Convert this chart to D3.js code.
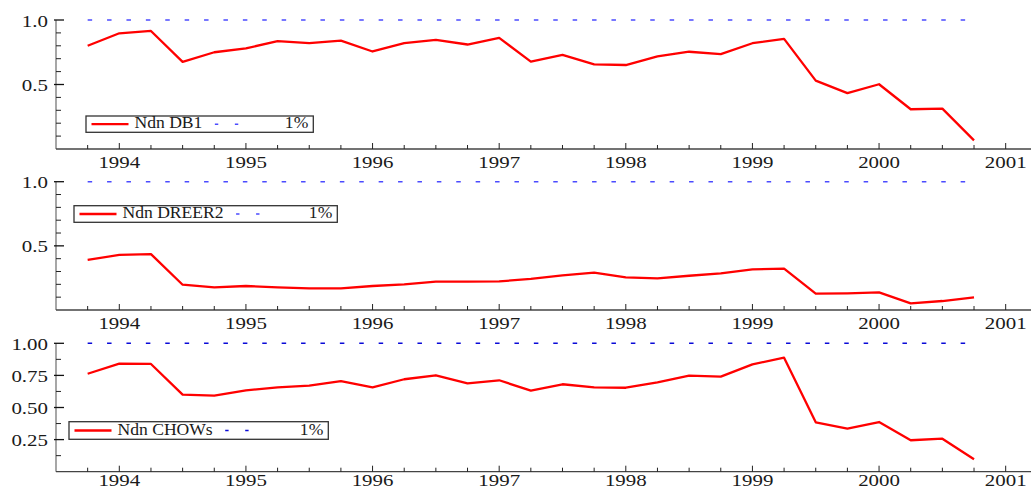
<!DOCTYPE html>
<html><head><meta charset="utf-8">
<script src="https://cdn.jsdelivr.net/npm/d3@7"></script>
<style>body{margin:0;background:#fff}svg{display:block}
text{font-family:"Liberation Serif","Times New Roman",Times,"DejaVu Serif",serif}</style>
</head><body>
<svg id="c" width="1031" height="490"></svg>
<script>
// ---- data ----
const dates = [1993.75,1994.00,1994.25,1994.50,1994.75,1995.00,1995.25,1995.50,1995.75,
  1996.00,1996.25,1996.50,1996.75,1997.00,1997.25,1997.50,1997.75,1998.00,1998.25,1998.50,
  1998.75,1999.00,1999.25,1999.50,1999.75,2000.00,2000.25,2000.50,2000.75];
const seriesNames = ["Ndn DB1", "Ndn DREER2", "Ndn CHOWs"];
const db1 = [0.800,0.897,0.915,0.675,0.750,0.780,0.836,0.820,0.840,0.756,0.820,0.846,0.810,0.862,
  0.677,0.730,0.656,0.651,0.718,0.754,0.736,0.820,0.854,0.530,0.433,0.502,0.308,0.313,0.067];
const dreer2 = [0.390,0.429,0.436,0.197,0.177,0.187,0.177,0.169,0.169,0.187,0.200,0.221,0.221,0.223,
  0.242,0.270,0.291,0.255,0.247,0.267,0.286,0.317,0.322,0.127,0.130,0.138,0.052,0.070,0.099];
const chows = [0.763,0.841,0.839,0.600,0.592,0.634,0.657,0.670,0.706,0.657,0.720,0.751,0.688,0.712,
  0.631,0.681,0.657,0.654,0.696,0.748,0.740,0.836,0.888,0.385,0.335,0.387,0.245,0.257,0.097];
const critLabel = "1%";
const critValue = 1.0;
const xTickYears = [1994,1995,1996,1997,1998,1999,2000,2001];
const xTickLabels = ["1994","1995","1996","1997","1998","1999","2000","2001"];
const yTicks12 = [1.0, 0.5];
const yTickLabels12 = ["1.0", "0.5"];
const yTicks3 = [1.0, 0.75, 0.5, 0.25];
const yTickLabels3 = ["1.00", "0.75", "0.50", "0.25"];

// ---- layout ----
const svg = d3.select("#c");
const x = d3.scaleLinear().domain([1993.5, 2001.2]).range([56, 1031]);
const panels = [
  {vals: db1, name: seriesNames[0], y0: 149, y1: 20, ticks: yTicks12, labels: yTickLabels12,
   minor: d3.range(0.1, 0.95, 0.1), critColor: "#4b4bff", xlab: 18.5,
   leg: {x: 86, y: 116, w: 227.3, h: 16.3}},
  {vals: dreer2, name: seriesNames[1], y0: 310, y1: 181.7, ticks: yTicks12, labels: yTickLabels12,
   minor: d3.range(0.1, 0.95, 0.1), critColor: "#4b4bff", xlab: 18.5,
   leg: {x: 74, y: 205.7, w: 263.3, h: 16.6}},
  {vals: chows, name: seriesNames[2], y0: 471.7, y1: 343.3, ticks: yTicks3, labels: yTickLabels3,
   minor: d3.range(0.125, 1, 0.25), critColor: "#0a0ad8", xlab: 14.2,
   leg: {x: 69, y: 421.7, w: 259.3, h: 17.6}}
];

function txt(g, px, py, s, anchor, size, sx) {
  return g.append("text")
    .attr("transform", `translate(${px},${py}) scale(${sx},1)`)
    .attr("text-anchor", anchor)
    .attr("font-size", size)
    .attr("fill", "#1a1a1a")
    .text(s);
}

panels.forEach(p => {
  const g = svg.append("g");
  const y = d3.scaleLinear().domain([0, 1]).range([p.y0, p.y1]);
  const xl = x.range()[0];

  // y axis
  g.append("line").attr("x1", xl).attr("x2", xl).attr("y1", y(1)).attr("y2", y(0))
    .attr("stroke", "#777").attr("stroke-width", 1.3);
  p.minor.forEach(v => {
    if (p.ticks.some(t => Math.abs(t - v) < 1e-6)) return;
    g.append("line").attr("x1", xl).attr("x2", xl + 5).attr("y1", y(v)).attr("y2", y(v))
      .attr("stroke", "#222").attr("stroke-width", 1);
  });
  p.ticks.forEach((v, i) => {
    g.append("line").attr("x1", xl - 2).attr("x2", xl + 8).attr("y1", y(v)).attr("y2", y(v))
      .attr("stroke", "#111").attr("stroke-width", 1.3);
    txt(g, xl - 8, y(v) + 6.5, p.labels[i], "end", 17, 1.23);
  });

  // x axis
  g.append("line").attr("x1", xl).attr("x2", x.range()[1]).attr("y1", y(0)).attr("y2", y(0))
    .attr("stroke", "#444").attr("stroke-width", 1.3);
  d3.range(1993.75, 2001.01, 0.25).forEach(t => {
    const major = Math.abs(t - Math.round(t)) < 1e-6;
    g.append("line").attr("x1", x(t)).attr("x2", x(t)).attr("y1", y(0)).attr("y2", y(0) - (major ? 6 : 4))
      .attr("stroke", "#222").attr("stroke-width", 1);
  });
  xTickYears.forEach((t, i) => txt(g, x(t), y(0) + p.xlab, xTickLabels[i], "middle", 17, 1.23));

  // critical value line
  g.append("line")
    .attr("x1", x(dates[0])).attr("x2", x(dates[dates.length - 1]))
    .attr("y1", y(critValue)).attr("y2", y(critValue))
    .attr("stroke", p.critColor).attr("stroke-width", 1.5)
    .attr("stroke-dasharray", "4.5,14.9");

  // series
  const line = d3.line().x((d, i) => x(dates[i])).y(d => y(d));
  g.append("path").datum(p.vals).attr("d", line)
    .attr("fill", "none").attr("stroke", "#ff0000").attr("stroke-width", 2.3)
    .attr("stroke-linejoin", "round");

  // legend
  const L = p.leg;
  const cy = L.y + L.h / 2;
  g.append("rect").attr("x", L.x).attr("y", L.y).attr("width", L.w).attr("height", L.h)
    .attr("fill", "#fff").attr("stroke", "#333").attr("stroke-width", 1.3);
  g.append("line").attr("x1", L.x + 5.5).attr("x2", L.x + 42.5).attr("y1", cy).attr("y2", cy)
    .attr("stroke", "#ff0000").attr("stroke-width", 2.3);
  const t = txt(g, L.x + 48.5, L.y + L.h - 4, p.name, "start", 16, 1.1);
  const tw = t.node().getComputedTextLength() * 1.1;
  const dx = L.x + 48.5 + tw + 12.5;
  g.append("line").attr("x1", dx).attr("x2", dx + 23.4).attr("y1", cy).attr("y2", cy)
    .attr("stroke", p.critColor).attr("stroke-width", 1.5).attr("stroke-dasharray", "3.4,16.6");
  txt(g, L.x + L.w - 5, L.y + L.h - 4, critLabel, "end", 16, 1.1);
});
</script>
</body></html>
